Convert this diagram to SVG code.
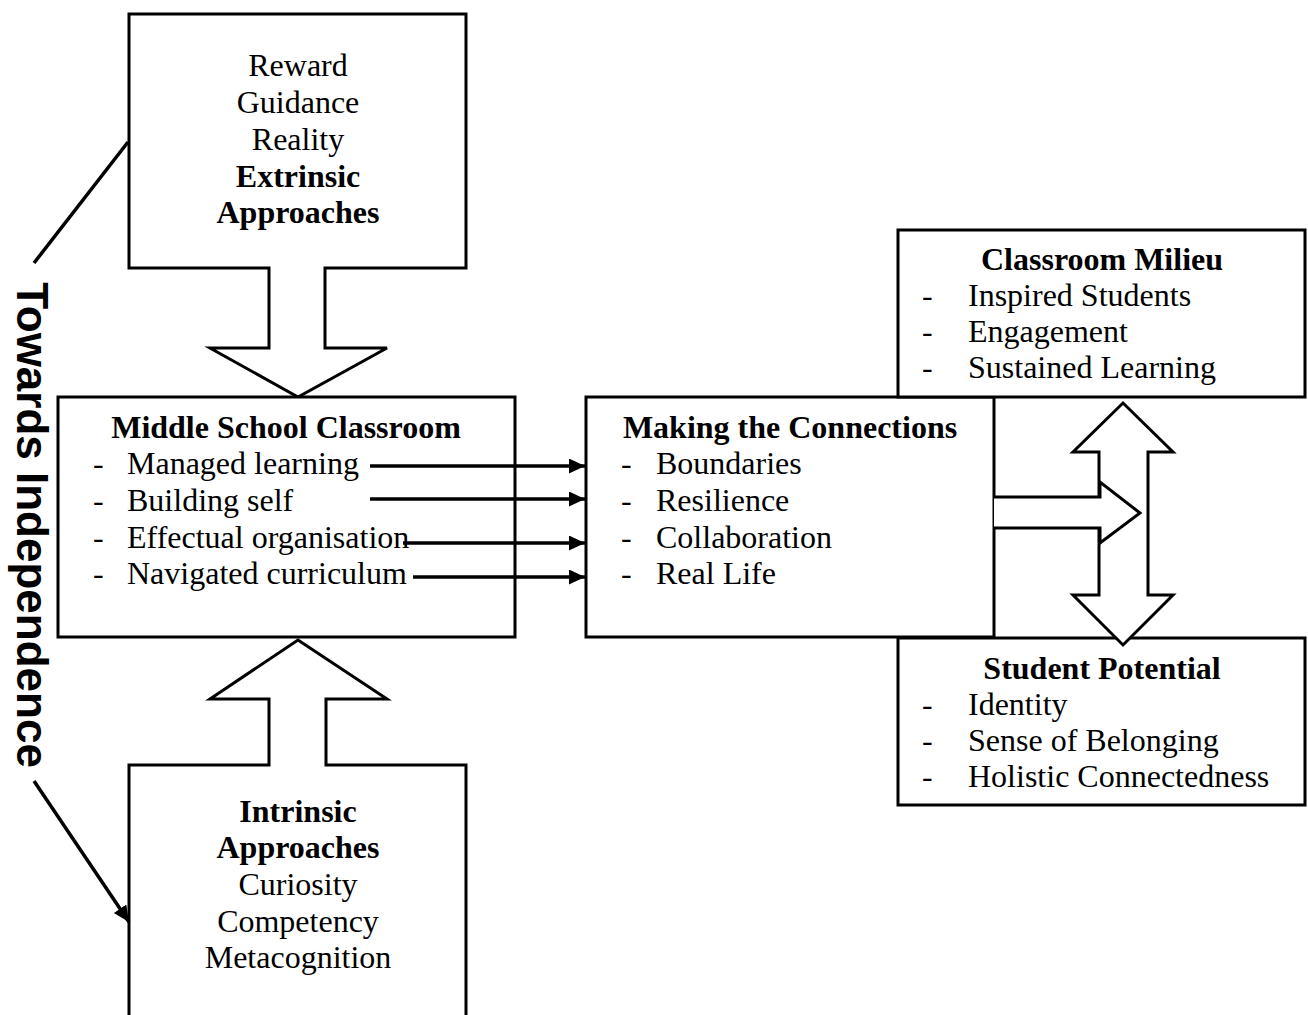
<svg xmlns="http://www.w3.org/2000/svg" width="1308" height="1015" viewBox="0 0 1308 1015">
<defs>
<style>
.box{fill:#fff;stroke:#000;stroke-width:3}
.t{font-family:"Liberation Serif","Times New Roman",serif;font-size:32px;fill:#000}
.b{font-weight:bold}
.c{text-anchor:middle}
.con{stroke:#000;stroke-width:3.5;fill:none}
.side{font-family:"Liberation Sans",Arial,sans-serif;font-size:44px;font-weight:bold;fill:#000}
</style>
<marker id="ah" markerUnits="userSpaceOnUse" markerWidth="18" markerHeight="16" refX="16" refY="7.5" orient="auto">
<path d="M0,0 L16,7.5 L0,15 Z" fill="#000"/>
</marker>
</defs>
<rect width="1308" height="1015" fill="#fff"/>

<g id="extrinsic">
<path class="box" d="M129,14 H466 V268 H325 V348 H387 L298,397 L210,348 H269 V268 H129 Z"/>
<text class="t c" x="298" y="76">Reward</text>
<text class="t c" x="298" y="113">Guidance</text>
<text class="t c" x="298" y="150">Reality</text>
<text class="t c b" x="298" y="187">Extrinsic</text>
<text class="t c b" x="298" y="223">Approaches</text>
</g>

<g id="intrinsic">
<path class="box" d="M129,1022 V765 H269 V699 H210 L298,640 L387,699 H326 V765 H466 V1022"/>
<text class="t c b" x="298" y="822">Intrinsic</text>
<text class="t c b" x="298" y="858">Approaches</text>
<text class="t c" x="298" y="895">Curiosity</text>
<text class="t c" x="298" y="932">Competency</text>
<text class="t c" x="298" y="968">Metacognition</text>
</g>

<g id="middle-school">
<rect class="box" x="58" y="397" width="457" height="240"/>
<text class="t c b" x="286" y="438">Middle School Classroom</text>
<text class="t" x="93" y="474">-</text><text class="t" x="127" y="474">Managed learning</text>
<text class="t" x="93" y="511">-</text><text class="t" x="127" y="511">Building self</text>
<text class="t" x="93" y="548">-</text><text class="t" x="127" y="548">Effectual organisation</text>
<text class="t" x="93" y="584">-</text><text class="t" x="127" y="584">Navigated curriculum</text>
</g>

<g id="making-connections">
<rect class="box" x="586" y="397" width="408" height="240"/>
<text class="t c b" x="790" y="438">Making the Connections</text>
<text class="t" x="621" y="474">-</text><text class="t" x="656" y="474">Boundaries</text>
<text class="t" x="621" y="511">-</text><text class="t" x="656" y="511">Resilience</text>
<text class="t" x="621" y="548">-</text><text class="t" x="656" y="548">Collaboration</text>
<text class="t" x="621" y="584">-</text><text class="t" x="656" y="584">Real Life</text>
</g>

<g id="classroom-milieu">
<rect class="box" x="898" y="230" width="407" height="167"/>
<text class="t c b" x="1102" y="270">Classroom Milieu</text>
<text class="t" x="922" y="306">-</text><text class="t" x="968" y="306">Inspired Students</text>
<text class="t" x="922" y="342">-</text><text class="t" x="968" y="342">Engagement</text>
<text class="t" x="922" y="378">-</text><text class="t" x="968" y="378">Sustained Learning</text>
</g>

<g id="student-potential">
<rect class="box" x="898" y="638" width="407" height="167"/>
<text class="t c b" x="1102" y="679">Student Potential</text>
<text class="t" x="922" y="715">-</text><text class="t" x="968" y="715">Identity</text>
<text class="t" x="922" y="751">-</text><text class="t" x="968" y="751">Sense of Belonging</text>
<text class="t" x="922" y="787">-</text><text class="t" x="968" y="787">Holistic Connectedness</text>
</g>

<g id="independence-label">
<text class="side c" transform="translate(17,525) rotate(90)" x="0" y="0">Towards Independence</text>
</g>

<g id="connectors">
<line class="con" x1="370" y1="466" x2="585" y2="466" marker-end="url(#ah)"/>
<line class="con" x1="370" y1="499" x2="585" y2="499" marker-end="url(#ah)"/>
<line class="con" x1="403" y1="543" x2="585" y2="543" marker-end="url(#ah)"/>
<line class="con" x1="413" y1="577" x2="585" y2="577" marker-end="url(#ah)"/>
<line class="con" x1="128" y1="142" x2="34" y2="263"/>
<line class="con" x1="34" y1="781" x2="129" y2="922" marker-end="url(#ah)"/>
<path class="box" d="M1123,403 L1173,452 H1148 V595 H1173 L1123,645 L1073,595 H1099 V452 H1073 Z"/>
<path class="box" d="M994,497 H1100 V482 L1140,513 L1100,543 V528 H994"/>
</g>
</svg>
